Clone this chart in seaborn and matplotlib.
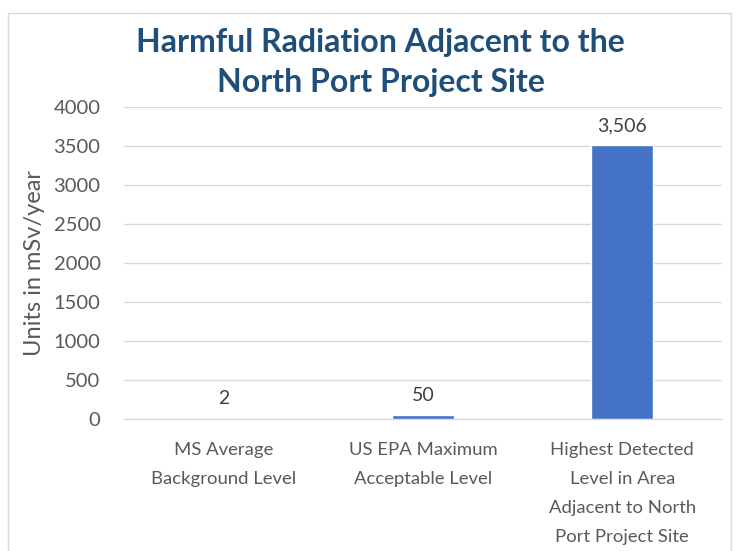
import seaborn as sns
import matplotlib.pyplot as plt
import pandas as pd
from matplotlib.patches import Rectangle

categories = ["MS Average\nBackground Level",
              "US EPA Maximum\nAcceptable Level",
              "Highest Detected\nLevel in Area\nAdjacent to North\nPort Project Site"]
values = [2, 50, 3506]
value_labels = ["2", "50", "3,506"]
yticks = [0, 500, 1000, 1500, 2000, 2500, 3000, 3500, 4000]

df = pd.DataFrame({"Category": categories, "Value": values})

sns.set_style("white")
plt.rcParams['font.family'] = ['Lato', 'DejaVu Sans']

fig = plt.figure(figsize=(7.39, 5.51), dpi=100)
ax = fig.add_axes([0.168, 0.240, 0.809, 0.566])

sns.barplot(data=df, x="Category", y="Value", color="#4472C4", saturation=1,
            width=0.31, ax=ax)

ax.set_ylim(0, 4000)
ax.set_yticks(yticks)
ax.set_yticklabels([str(t) for t in yticks])
ax.set_xticks(range(len(categories)))
ax.set_xticklabels(categories, linespacing=2.0, fontsize=13.3, va="top")
ax.grid(axis="y", color="#D9D9D9", linewidth=1)
ax.set_axisbelow(True)
for s in ["top", "right", "left"]:
    ax.spines[s].set_visible(False)
ax.spines["bottom"].set_color("#D9D9D9")
ax.tick_params(axis="both", length=0, colors="#595959")
ax.tick_params(axis="y", pad=17, labelsize=14.5)
ax.tick_params(axis="x", pad=17)

ax.set_xlabel("")
ax.set_ylabel("Units in mSv/year", fontsize=17, color="#595959", labelpad=6)

for i, (v, t) in enumerate(zip(values, value_labels)):
    ax.annotate(t, (i, v), xytext=(0, 8), textcoords="offset points",
                ha="center", va="bottom", fontsize=14, color="#404040")

fig.text(0.515, 0.887, "Harmful Radiation Adjacent to the\nNorth Port Project Site",
         ha="center", va="center", fontsize=23, fontweight="bold",
         color="#1F4E79", linespacing=1.47)

fig.patches.append(Rectangle((8 / 739, -0.05), 723 / 739, 1 - 13 / 551 + 0.05,
                             transform=fig.transFigure, fill=False,
                             edgecolor="#D9D9D9", linewidth=1))

fig.savefig("out.png", dpi=100)
